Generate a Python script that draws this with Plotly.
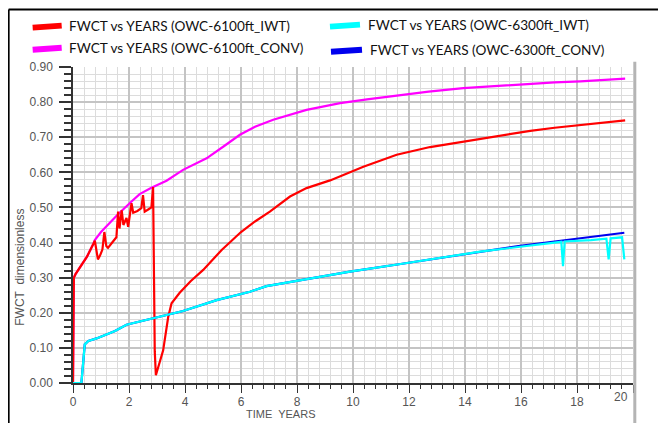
import plotly.graph_objects as go

# ---------------- data ----------------
red_years = [0, 0.03, 0.09, 0.3, 0.5, 0.72, 0.78, 0.89, 0.96, 1.05, 1.12, 1.19, 1.25, 1.4, 1.55,
             1.61, 1.66, 1.74, 1.80, 1.91, 1.97, 2.09, 2.15, 2.30, 2.44, 2.50, 2.56, 2.70, 2.80,
             2.86, 2.89, 2.92, 2.96, 3.22, 3.40, 3.52, 3.81, 4.2, 4.65, 5.31, 6.0, 6.5, 7.03,
             7.75, 8.34, 9.18, 10.37, 11.56, 12.75, 13.94, 15.14, 16.33, 17.2, 18.12, 19.0, 19.72]
red_fwct = [0, 0.30, 0.31, 0.336, 0.36, 0.395, 0.405, 0.352, 0.362, 0.38, 0.43, 0.39, 0.385, 0.40, 0.415,
            0.488, 0.44, 0.492, 0.45, 0.47, 0.445, 0.512, 0.485, 0.49, 0.498, 0.535, 0.488, 0.495, 0.50,
            0.558, 0.30, 0.09, 0.022, 0.093, 0.188, 0.227, 0.257, 0.29, 0.322, 0.379, 0.43, 0.46, 0.488,
            0.531, 0.555, 0.577, 0.616, 0.650, 0.672, 0.688, 0.704, 0.718, 0.727, 0.735, 0.742, 0.748]

mag_years = [0, 0.03, 0.09, 0.3, 0.5, 0.72, 0.78, 1.0, 1.3, 1.6, 2.09, 2.38, 2.8, 3.34, 3.93, 4.77,
             5.4, 5.96, 6.5, 7.15, 8.34, 9.54, 10.5, 11.56, 12.7, 13.94, 15.1, 16.33, 17.2, 18.12,
             19.0, 19.72]
mag_fwct = [0, 0.30, 0.31, 0.336, 0.36, 0.395, 0.407, 0.43, 0.455, 0.48, 0.517, 0.538, 0.556, 0.576,
            0.607, 0.640, 0.675, 0.707, 0.73, 0.750, 0.778, 0.797, 0.808, 0.819, 0.830, 0.840, 0.846,
            0.852, 0.856, 0.859, 0.863, 0.867]

cyan_years = [0, 0.3, 0.42, 0.55, 0.84, 1.19, 1.5, 1.91, 2.5, 2.98, 3.93, 5.13, 6.32, 6.91, 8.10,
              9.89, 11.7, 13.0, 14.54, 15.97, 16.7, 17.44, 17.50, 17.56, 18.5, 19.05, 19.13, 19.20,
              19.61, 19.69]
cyan_fwct = [0, 0, 0.11, 0.12, 0.127, 0.138, 0.148, 0.166, 0.177, 0.188, 0.205, 0.236, 0.260, 0.276,
             0.293, 0.317, 0.339, 0.355, 0.374, 0.388, 0.395, 0.402, 0.333, 0.403, 0.407, 0.411,
             0.352, 0.412, 0.415, 0.352]

blue_years = [0, 0.3, 0.42, 0.55, 0.84, 1.19, 1.5, 1.91, 2.5, 2.98, 3.93, 5.13, 6.32, 6.91, 8.10,
              9.89, 11.7, 13.0, 14.54, 15.97, 16.7, 17.4, 18.3, 19.0, 19.69]
blue_fwct = [0, 0, 0.11, 0.12, 0.127, 0.138, 0.148, 0.166, 0.177, 0.188, 0.205, 0.236, 0.260, 0.276,
             0.293, 0.317, 0.339, 0.355, 0.375, 0.391, 0.398, 0.405, 0.413, 0.420, 0.428]

series_names = ["FWCT vs YEARS (OWC-6100ft_IWT)", "FWCT vs YEARS (OWC-6300ft_IWT)",
                "FWCT vs YEARS (OWC-6100ft_CONV)", "FWCT vs YEARS (OWC-6300ft_CONV)"]
x_tick_vals = [0, 2, 4, 6, 8, 10, 12, 14, 16, 18, 20]
y_tick_vals = [0.0, 0.1, 0.2, 0.3, 0.4, 0.5, 0.6, 0.7, 0.8, 0.9]

RED, CYAN, MAG, BLUE = "#ff0000", "#00ffff", "#ff00ff", "#0000ee"

# ---------------- geometry (window pixels) ----------------
W, H = 666, 423
OFF = 8            # default page body margin
L, R, T, B = 73.3, 632.7, 67.3, 382.7


def px(x):
    return (x - L) / (R - L)


def py(y):
    return (B - y) / (B - T)


fig = go.Figure()
fig.add_trace(go.Scatter(x=mag_years, y=mag_fwct, mode="lines", line=dict(color=MAG, width=2.2),
                         name=series_names[2], showlegend=False))
fig.add_trace(go.Scatter(x=red_years, y=red_fwct, mode="lines", line=dict(color=RED, width=2.2),
                         name=series_names[0], showlegend=False))
fig.add_trace(go.Scatter(x=blue_years, y=blue_fwct, mode="lines", line=dict(color=BLUE, width=2.2),
                         name=series_names[3], showlegend=False))
fig.add_trace(go.Scatter(x=cyan_years, y=cyan_fwct, mode="lines", line=dict(color=CYAN, width=2.2),
                         name=series_names[1], showlegend=False))

tickfont = dict(family="Liberation Sans, Arial, sans-serif", size=12, color="#555555")

fig.update_xaxes(
    range=[0, 20], tickvals=x_tick_vals,
    ticktext=[str(v) if v != 20 else "" for v in x_tick_vals],
    ticks="outside", ticklen=8, tickwidth=1, tickcolor="#333333",
    showline=True, linecolor="#333333", linewidth=1.5,
    showgrid=True, gridcolor="#c4c4c4", gridwidth=1.5,
    minor=dict(dtick=0.4, tick0=0, ticks="outside", ticklen=4, tickcolor="#333333",
               showgrid=True, gridcolor="#dcdcdc", gridwidth=1),
    tickfont=tickfont, zeroline=False, fixedrange=True, automargin=False, ticklabelstandoff=-1,
)
fig.update_yaxes(
    range=[0, 0.9], tickvals=y_tick_vals, tickformat=".2f",
    ticks="outside", ticklen=12, tickwidth=1.5, tickcolor="#333333",
    showline=True, linecolor="#333333", linewidth=1.5,
    showgrid=True, gridcolor="#c4c4c4", gridwidth=1.5,
    minor=dict(dtick=0.02, tick0=0, ticks="outside", ticklen=7, tickcolor="#333333",
               showgrid=True, gridcolor="#dcdcdc", gridwidth=1),
    tickfont=tickfont, zeroline=False, fixedrange=True, ticklabelstandoff=4, automargin=False,
)

shapes = []
# outer black frame (left + top)
shapes.append(dict(type="line", xref="paper", yref="paper", x0=px(9), x1=px(9), y0=py(10), y1=py(423),
                   line=dict(color="#000000", width=2)))
shapes.append(dict(type="line", xref="paper", yref="paper", x0=px(9), x1=px(666), y0=py(10), y1=py(10),
                   line=dict(color="#000000", width=2)))
# right gray border
shapes.append(dict(type="line", xref="paper", yref="paper", x0=px(634.5), x1=px(634.5), y0=py(62), y1=py(423),
                   line=dict(color="#b4b4b4", width=3)))

# legend samples
leg = [
    (33, 62, 27, RED, series_names[0], 67),
    (330, 360, 26, CYAN, series_names[1], 366),
    (33, 62, 49, MAG, series_names[2], 67),
    (331, 362, 51, BLUE, series_names[3], 368),
]
annotations = []
for x0, x1, yy, col, label, tx in leg:
    shapes.append(dict(type="line", xref="paper", yref="paper", x0=px(x0), x1=px(x1), y0=py(yy + 1),
                       y1=py(yy - 1), line=dict(color=col, width=6)))
    annotations.append(dict(text=label, xref="paper", yref="paper", x=px(tx), y=py(yy - 1),
                            xanchor="left", yanchor="middle", showarrow=False,
                            font=dict(family="Lato, Carlito, sans-serif", size=13.6, color="#111111")))

# axis titles
annotations.append(dict(text="FWCT  dimensionless", xref="paper", yref="paper", x=px(20), y=py(267),
                        xanchor="center", yanchor="middle", textangle=-90, showarrow=False,
                        font=dict(family="Liberation Sans, Arial, sans-serif", size=12, color="#555555")))
annotations.append(dict(text="TIME  YEARS", xref="paper", yref="paper", x=px(281), y=py(414),
                        xanchor="center", yanchor="middle", showarrow=False,
                        font=dict(family="Liberation Sans, Arial, sans-serif", size=11, color="#555555")))
# last x tick label (shifted inward as in the reference)
annotations.append(dict(text=str(x_tick_vals[-1]), xref="x", yref="paper", x=x_tick_vals[-1], y=py(397),
                        xanchor="right", yanchor="middle", xshift=-3, showarrow=False, font=tickfont))

fig.update_layout(
    width=W - OFF, height=H - OFF,
    margin=dict(l=L - OFF, r=W - R, t=T - OFF, b=H - B, pad=0, autoexpand=False),
    paper_bgcolor="#ffffff", plot_bgcolor="#ffffff",
    shapes=shapes, annotations=annotations, showlegend=False,
)

fig.write_html("out.html")
